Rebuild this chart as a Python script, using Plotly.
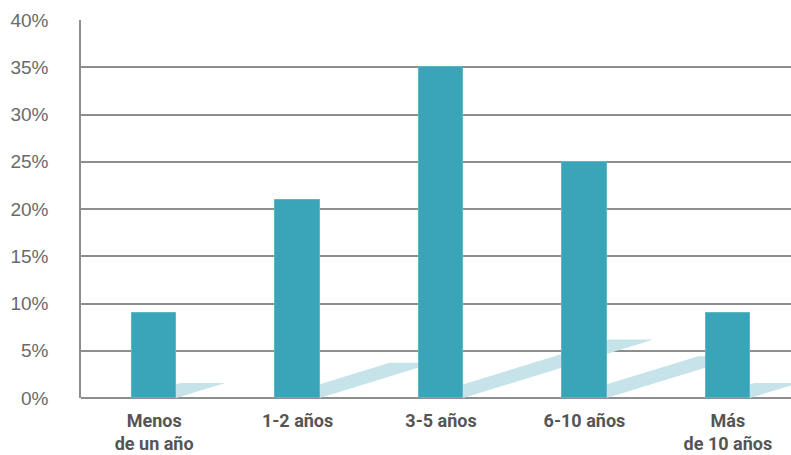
import plotly.graph_objects as go

# Share of respondents by years of experience
categories = ["Menos<br>de un año", "1-2 años", "3-5 años", "6-10 años", "Más<br>de 10 años"]
values = [9, 21, 35, 25, 9]
y_ticks = [0, 5, 10, 15, 20, 25, 30, 35, 40]

BAR_COLOR = "#3AA5B9"
SHADOW_COLOR = "#C5E3E9"
GRID_COLOR = "#8E8E8E"
BAR_WIDTH = 0.31
# Shadow geometry: horizontal throw per percentage point (category units)
# and shadow rise as a fraction of bar height
SHADOW_THROW = 0.0379
SHADOW_RISE = 0.177

fig = go.Figure()

fig.add_trace(go.Bar(
    x=list(range(len(categories))),
    y=values,
    width=BAR_WIDTH,
    marker=dict(color=BAR_COLOR, line=dict(width=1, color="#5DB6C6")),
    showlegend=False,
))

# Slanted floor shadows cast by each bar, kept between the grid and the bars
for i, v in enumerate(values):
    xl = i - BAR_WIDTH / 2
    xr = i + BAR_WIDTH / 2
    d = SHADOW_THROW * v
    s = SHADOW_RISE * v
    fig.add_shape(
        type="path",
        path=f"M {xl},0 L {xr},0 L {xr + d},{s} L {xl + d},{s} Z",
        xref="x", yref="y",
        fillcolor=SHADOW_COLOR,
        line=dict(width=0),
        layer="between",
    )

fig.update_layout(
    width=791,
    height=455,
    margin=dict(l=81, r=0, t=20, b=57),
    plot_bgcolor="white",
    paper_bgcolor="white",
    bargap=0,
)

fig.update_xaxes(
    range=[-0.51, 4.44],
    tickmode="array",
    tickvals=list(range(len(categories))),
    ticktext=categories,
    showgrid=False,
    zeroline=False,
    showline=False,
    ticks="",
    ticklabelstandoff=10,
    tickfont=dict(family="Roboto", size=18, color="#555555", weight="bold"),
)

fig.update_yaxes(
    range=[0, 40],
    tickmode="array",
    tickvals=y_ticks,
    ticktext=[f"{t}%" for t in y_ticks],
    showgrid=True,
    gridcolor=GRID_COLOR,
    gridwidth=1.5,
    zeroline=True,
    zerolinecolor=GRID_COLOR,
    zerolinewidth=1.5,
    showline=True,
    linecolor=GRID_COLOR,
    linewidth=1.5,
    ticks="",
    ticklabelstandoff=27,
    tickfont=dict(family="Liberation Sans", size=19, color="#6A6A6A"),
)

fig.write_html("out.html")
